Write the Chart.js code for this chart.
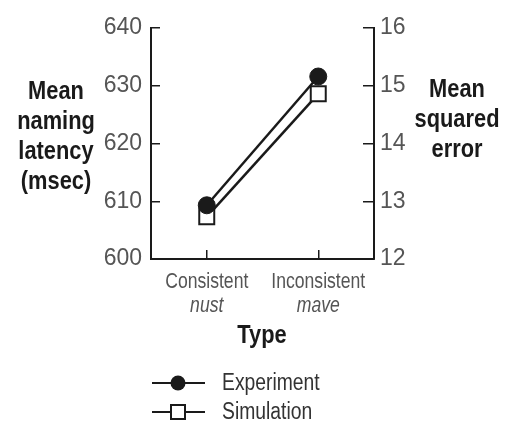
<!DOCTYPE html>
<html>
<head>
<meta charset="utf-8">
<script src="https://cdn.jsdelivr.net/npm/chart.js@4.4.1/dist/chart.umd.min.js"></script>
<style>
  html, body { margin: 0; padding: 0; background: #fff; }
</style>
</head>
<body>
<canvas id="chart" width="512" height="424"></canvas>
<script>
// data
const categories = ['Consistent', 'Inconsistent'];
const exampleWords = ['nust', 'mave'];
const seriesNames = ['Experiment', 'Simulation'];
const experimentLatency = [609.3, 631.6];
const simulationError = [12.73, 14.86];
const leftTitle = ['Mean', 'naming', 'latency', '(msec)'];
const rightTitle = ['Mean', 'squared', 'error'];
const xTitle = 'Type';

const SANS = '"Liberation Sans", Arial, sans-serif';
const INK = '#1a1a1a';
const TICK_GREY = '#555';

// squeeze text sideways, the original uses a condensed face
function narrowText(ctx, text, x, y, sx) {
    ctx.save();
    ctx.translate(x, y);
    ctx.scale(sx, 1);
    ctx.fillText(text, 0, 0);
    ctx.restore();
}

// titles, category labels and legend drawn by hand (mixed italic, horizontal titles)
const extras = {
    id: 'extras',
    afterDraw(chart) {
        const ctx = chart.ctx;
        const xScale = chart.scales.x;
        ctx.save();

        ctx.fillStyle = INK;
        ctx.textAlign = 'center';
        ctx.textBaseline = 'alphabetic';
        ctx.font = 'bold 26px ' + SANS;
        leftTitle.forEach((t, i) => narrowText(ctx, t, 56, 99 + 30 * i, 0.84));
        rightTitle.forEach((t, i) => narrowText(ctx, t, 457, 97 + 30 * i, 0.84));
        narrowText(ctx, xTitle, 262, 343, 0.84);

        ctx.fillStyle = TICK_GREY;
        categories.forEach((c, i) => {
            const x = xScale.getPixelForTick(i);
            ctx.font = '22px ' + SANS;
            narrowText(ctx, c, x, 288, 0.8);
            ctx.font = 'italic 22px ' + SANS;
            narrowText(ctx, exampleWords[i], x, 312, 0.8);
        });

        // legend
        chart.data.datasets.forEach((ds, i) => {
            const y = 383 + 29 * i;
            ctx.strokeStyle = INK;
            ctx.lineWidth = 2;
            ctx.beginPath();
            ctx.moveTo(152, y);
            ctx.lineTo(205, y);
            ctx.stroke();
            if (ds.pointStyle === 'rect') {
                ctx.fillStyle = '#fff';
                ctx.fillRect(171, y - 7, 14, 14);
                ctx.strokeRect(171, y - 7, 14, 14);
            } else {
                ctx.fillStyle = INK;
                ctx.beginPath();
                ctx.arc(178, y, 7.5, 0, Math.PI * 2);
                ctx.fill();
            }
            ctx.fillStyle = '#333';
            ctx.font = '23px ' + SANS;
            ctx.textAlign = 'left';
            ctx.textBaseline = 'middle';
            narrowText(ctx, ds.label, 222, y + 1, 0.84);
        });
        ctx.restore();
    }
};

// fixed axis boxes so the plot frame lands where the original one is
const fixY = w => s => { s.width = w; s.paddingTop = 0; s.paddingBottom = 0; };

new Chart(document.getElementById('chart'), {
    type: 'line',
    data: {
        labels: categories,
        datasets: [{
            label: seriesNames[0],
            data: experimentLatency,
            yAxisID: 'y',
            borderColor: INK,
            borderWidth: 2.5,
            pointStyle: 'circle',
            pointRadius: 8.5,
            pointBackgroundColor: INK,
            pointBorderColor: INK,
            pointBorderWidth: 1
        }, {
            label: seriesNames[1],
            data: simulationError,
            yAxisID: 'y1',
            borderColor: INK,
            borderWidth: 2.5,
            pointStyle: 'rect',
            pointRadius: 10.6,
            pointBackgroundColor: '#fff',
            pointBorderColor: INK,
            pointBorderWidth: 2
        }]
    },
    options: {
        responsive: false,
        animation: false,
        layout: { padding: { top: 28, left: 0, right: 0, bottom: 0 } },
        plugins: {
            legend: { display: false },
            tooltip: { enabled: false }
        },
        scales: {
            x: {
                offset: true,
                afterFit: s => { s.height = 165; s.paddingLeft = 0; s.paddingRight = 0; },
                grid: { drawOnChartArea: false, tickLength: -9, color: INK, lineWidth: 1.5 },
                border: { color: INK, width: 2 },
                ticks: { display: false }
            },
            y: {
                position: 'left',
                min: 600,
                max: 640,
                afterFit: fixY(151),
                grid: { drawOnChartArea: false, tickLength: -9, color: INK, lineWidth: 1.5 },
                border: { color: INK, width: 2 },
                ticks: { stepSize: 10, padding: 18, color: TICK_GREY, font: { family: SANS, size: 23 } }
            },
            y1: {
                position: 'right',
                min: 12,
                max: 16,
                afterFit: fixY(138),
                grid: { drawOnChartArea: false, tickLength: -11, color: INK, lineWidth: 1.5 },
                border: { color: INK, width: 2 },
                ticks: { stepSize: 1, padding: 17, color: TICK_GREY, font: { family: SANS, size: 23 } }
            }
        }
    },
    plugins: [extras]
});
</script>
</body>
</html>
